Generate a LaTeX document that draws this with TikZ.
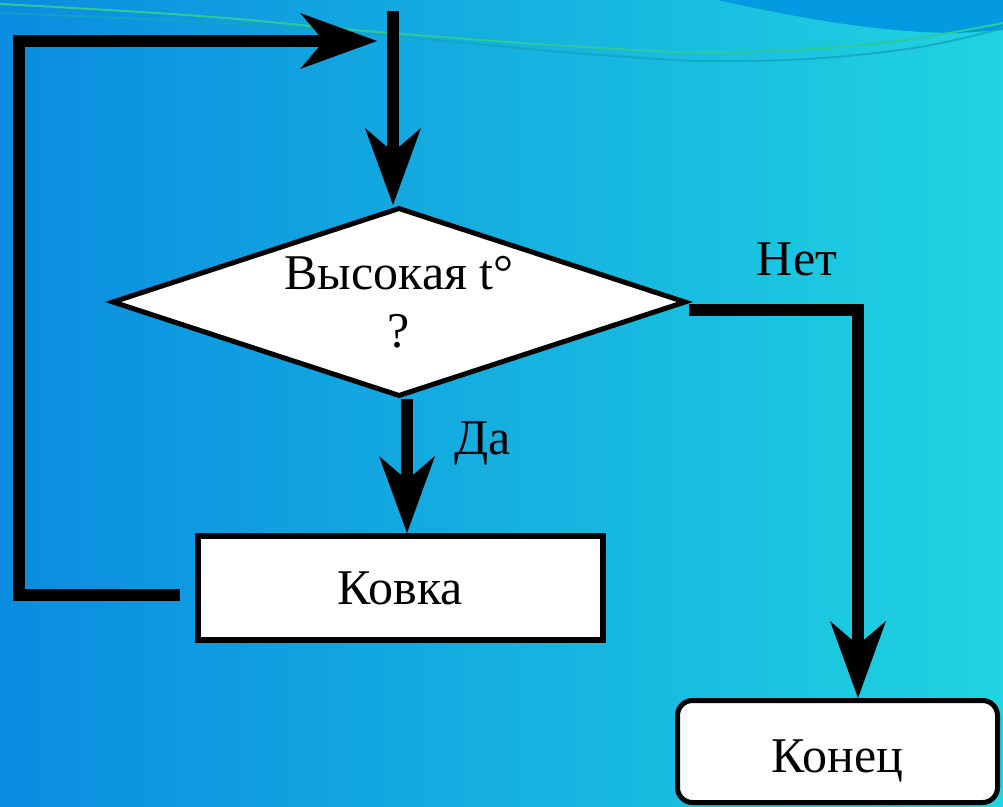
\documentclass[tikz,border=0pt]{standalone}
\usepackage{fontspec}
\setmainfont{Liberation Serif}
\usetikzlibrary{arrows.meta,shapes.geometric}
\definecolor{bgA}{HTML}{0A8CE0}
\definecolor{bgB}{HTML}{20D4E0}
\definecolor{darkcap}{HTML}{039AE2}
\definecolor{waveG}{HTML}{2CC99A}
\definecolor{waveT}{HTML}{12A6BE}
\begin{document}
\begin{tikzpicture}[x=1pt,y=-1pt,
  flow/.style={line width=12pt, line join=miter, -{Stealth[length=77pt,width=56pt,inset=24pt,line width=0pt]}},
  txt/.style={font=\fontsize{50}{58}\selectfont, inner sep=0pt},
  boxstyle/.style={draw=black, fill=white, line width=5pt}]

\useasboundingbox (0,0) rectangle (1003,806);
\shade[left color=bgA, right color=bgB] (0,0) rectangle (1003,806);
\fill[darkcap] (717,0) .. controls (800,18) and (880,33) .. (960,33) -- (1003,30) -- (1003,0) -- cycle;
\draw[waveG, line width=2pt] plot[smooth, tension=0.7] coordinates {(0,4) (200,16) (378,32) (600,48) (733,52) (880,43) (1003,23)};
\draw[waveT, line width=2pt, opacity=0.8] plot[smooth, tension=0.7] coordinates {(0,13) (200,22) (378,35) (600,55) (750,61) (900,50) (1003,28)};

\node[boxstyle, diamond, aspect=3.04, minimum width=574pt, minimum height=189pt, txt, align=center] (dia) at (399,302) {Высокая t°\\?};
\node[boxstyle, line width=6pt, minimum width=405pt, minimum height=104pt, txt] (kov) at (400.5,588) {Ковка};
\node[boxstyle, rounded corners=15pt, minimum width=320pt, minimum height=102pt, txt, text height=47pt, text depth=6pt] (kon) at (837.5,751.5) {Конец};

\node[txt] (net) at (797,259) {Нет};
\node[txt] (da) at (483,443) {Да};

\coordinate (start) at (393,11);
\coordinate (looptip) at (377,41);
\coordinate (lc) at (19,41);

\draw[flow] (start) -- (start |- dia.north);
\draw[flow] ([xshift=8pt]dia.south) -- ([xshift=8pt]dia.south |- kov.north);
\draw[flow] ([yshift=-8pt]dia.east) -| ([xshift=20.5pt]kon.north);
\draw[flow] ([xshift=-15pt,yshift=-7pt]kov.west) -| (lc) -- (looptip);
\end{tikzpicture}
\end{document}
